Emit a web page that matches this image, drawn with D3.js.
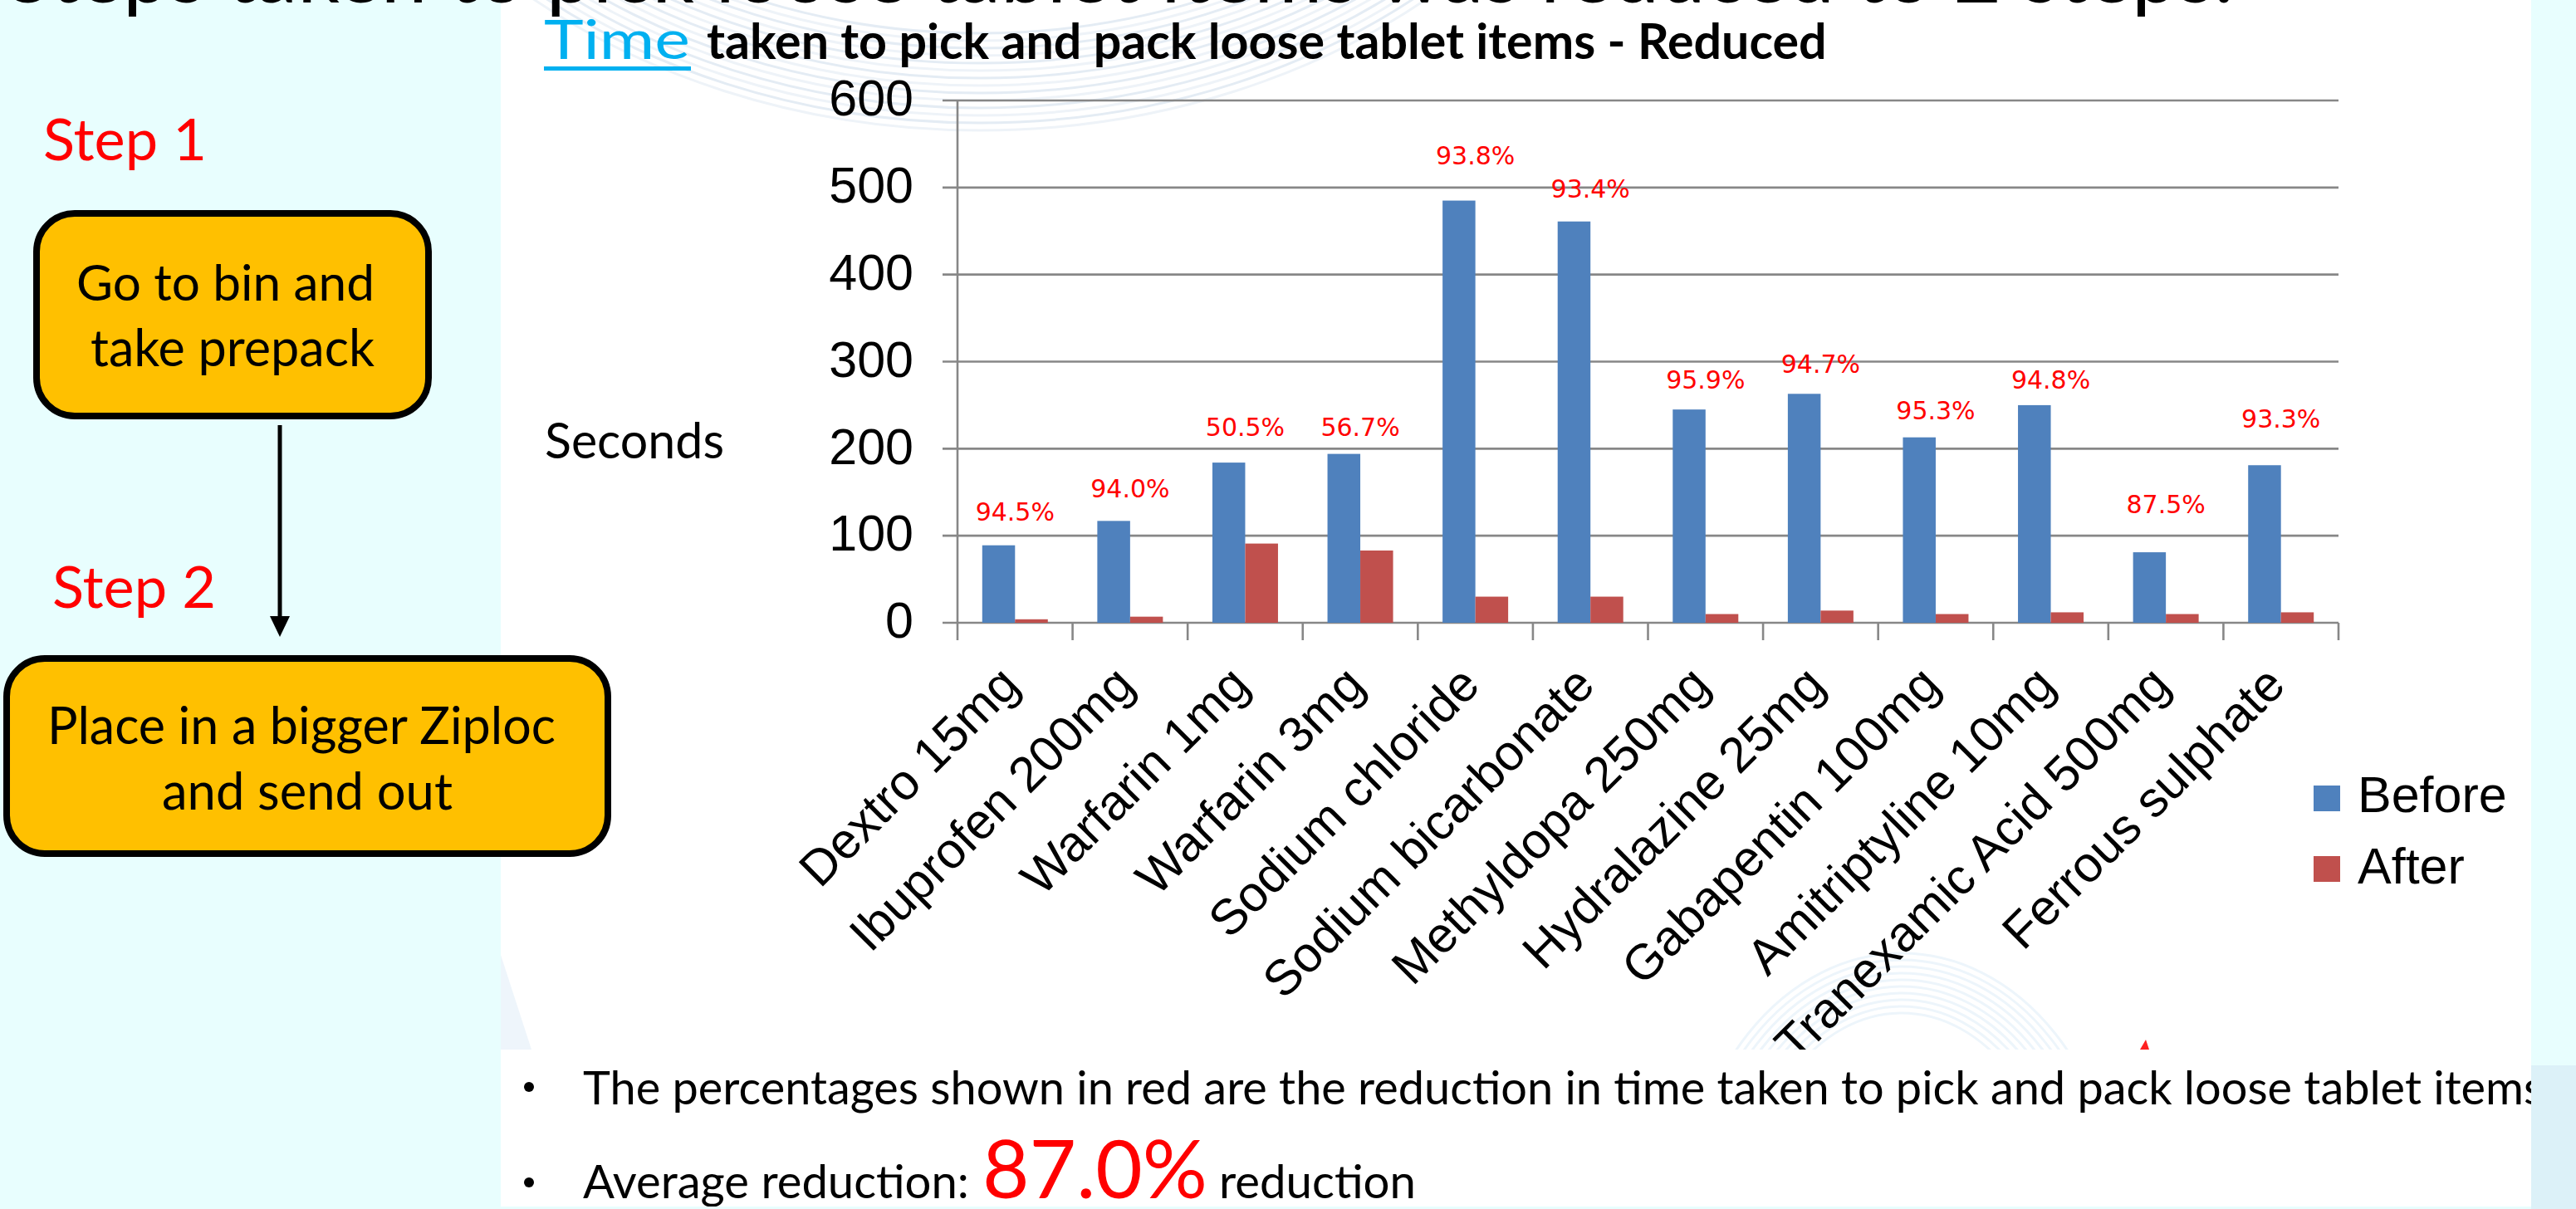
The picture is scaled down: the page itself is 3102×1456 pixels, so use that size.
<!DOCTYPE html>
<html><head><meta charset="utf-8">
<script src="https://cdn.jsdelivr.net/npm/d3@7"></script>
<style>html,body{margin:0;padding:0;background:#E8FEFE;overflow:hidden}</style>
</head><body>
<svg id="c" width="3102" height="1456"></svg>
<script>
// ---------- data ----------
const categories = ["Dextro 15mg","Ibuprofen 200mg","Warfarin 1mg","Warfarin 3mg","Sodium chloride","Sodium bicarbonate","Methyldopa 250mg","Hydralazine 25mg","Gabapentin 100mg","Amitriptyline 10mg","Tranexamic Acid 500mg","Ferrous sulphate"];
const seriesNames = ["Before","After"];
const before = [89,117,184,194,485,461,245,263,213,250,81,181];
const after  = [4,7,91,83,30,30,10,14,10,12,10,12];
const reductionLabels = ["94.5%","94.0%","50.5%","56.7%","93.8%","93.4%","95.9%","94.7%","95.3%","94.8%","87.5%","93.3%"];
const labelLevels = [117,144,215,215,527,488,269,287,234,269,126,224]; // seconds at which each red label sits
const yTicks = [0,100,200,300,400,500,600];

// ---------- setup ----------
const svg = d3.select("#c");
const colors = {Before:"#4F81BD", After:"#C0504D"};
const grid = "#878787";
const CAL = "Lato, 'Open Sans', sans-serif";
const ARI = "'Liberation Sans', Arial, sans-serif";

function fit(sel, w){
  const L = sel.node().getComputedTextLength();
  const fs = parseFloat(sel.attr("font-size"));
  sel.attr("font-size", fs*w/L);
  return sel;
}

// backgrounds
svg.append("rect").attr("width",3102).attr("height",1456).attr("fill","#E8FEFE");
svg.append("rect").attr("x",3048).attr("y",1283).attr("width",54).attr("height",173).attr("fill","#DCF1F8");
const defs = svg.append("defs");
defs.append("clipPath").attr("id","chartClip").append("rect").attr("x",603).attr("y",0).attr("width",2445).attr("height",1264);
defs.append("clipPath").attr("id","bottomClip").append("rect").attr("x",603).attr("y",1264).attr("width",2445).attr("height",189);
svg.append("rect").attr("x",603).attr("y",0).attr("width",2445).attr("height",1264).attr("fill","#ffffff");

// faint swirl decoration
const sw = svg.append("g").attr("clip-path","url(#chartClip)").attr("fill","none");
d3.range(0,14).forEach(i=>{
  sw.append("ellipse").attr("cx",1180).attr("cy",-520).attr("rx",720+i*9).attr("ry",560+i*9)
    .attr("stroke", i%2? "#eef3f8":"#e4ecf4").attr("stroke-width",3);
});
d3.range(0,10).forEach(i=>{
  sw.append("ellipse").attr("cx",2290).attr("cy",1480).attr("rx",190+i*8).attr("ry",260+i*8)
    .attr("stroke","#edf5fb").attr("stroke-width",3);
});
svg.append("path").attr("d","M603,1150 L640,1264 L603,1264 Z").attr("fill","#eef5fb");

// top heading (cut off)
const head = svg.append("text").attr("x",8).attr("y",3).attr("font-family",CAL).attr("font-size",90).attr("fill","#000")
  .text("Steps taken to pick loose tablet items was reduced to 2 steps.");
fit(head, 2682);

// ---------- left panel ----------
svg.append("text").attr("x",52).attr("y",193).attr("font-family",CAL).attr("font-size",72).attr("fill","#FF0000").text("Step 1").call(s=>fit(s,197));
svg.append("text").attr("x",63).attr("y",732).attr("font-family",CAL).attr("font-size",72).attr("fill","#FF0000").text("Step 2").call(s=>fit(s,197));

svg.append("rect").attr("x",44).attr("y",257).attr("width",472).attr("height",244).attr("rx",46).attr("ry",46)
  .attr("fill","#FFC000").attr("stroke","#000").attr("stroke-width",8);
svg.append("rect").attr("x",8).attr("y",793).attr("width",724).attr("height",235).attr("rx",46).attr("ry",46)
  .attr("fill","#FFC000").attr("stroke","#000").attr("stroke-width",8);

function boxLine(txt, x0, w, y){
  svg.append("text").attr("x",x0).attr("y",y).attr("font-family",CAL).attr("font-size",62).attr("fill","#000").text(txt).call(s=>fit(s,w));
}
boxLine("Go to bin and", 92, 359, 362);
boxLine("take prepack", 109, 342, 441);
boxLine("Place in a bigger Ziploc", 57, 612, 896);
boxLine("and send out", 195, 350, 975);

// arrow
svg.append("line").attr("x1",337).attr("y1",512).attr("x2",337).attr("y2",748).attr("stroke","#000").attr("stroke-width",5);
svg.append("path").attr("d","M325,742 L349,742 L337,767 Z").attr("fill","#000");

// ---------- chart ----------
const x0 = 1153, x1 = 2816;
const x = d3.scaleBand().domain(categories).range([x0,x1]).paddingInner(0.43).paddingOuter(0.215);
const xs = d3.scaleBand().domain(seriesNames).range([0, x.bandwidth()]);
const y = d3.scaleLinear().domain([0,600]).range([750,121]);
const step = (x1-x0)/categories.length;

// title
svg.append("text").attr("x",655).attr("y",71).attr("font-family",CAL).attr("font-size",66).attr("fill","#00B0F0")
  .attr("textLength",176).attr("lengthAdjust","spacingAndGlyphs").text("Time");
svg.append("rect").attr("x",655).attr("y",80).attr("width",177).attr("height",5).attr("fill","#00B0F0");
svg.append("text").attr("x",851).attr("y",71).attr("font-family",CAL).attr("font-weight","bold").attr("font-size",52).attr("fill","#000")
  .text("taken to pick and pack loose tablet items - Reduced").call(s=>fit(s,1349));

// axis title
svg.append("text").attr("x",656).attr("y",552).attr("font-family",CAL).attr("font-size",50).attr("fill","#000").text("Seconds").call(s=>fit(s,216));

// gridlines
svg.append("g").selectAll("line").data(yTicks).join("line")
  .attr("x1",1135).attr("x2",x1).attr("y1",d=>y(d)).attr("y2",d=>y(d))
  .attr("stroke",grid).attr("stroke-width",2.6);

// y axis labels via d3 axis
const yAxis = svg.append("g").attr("transform",`translate(${x0},0)`)
  .call(d3.axisLeft(y).tickValues(yTicks).tickSize(0).tickPadding(53));
yAxis.select(".domain").remove();
yAxis.selectAll("text").attr("font-family",ARI).attr("font-size",61).attr("fill","#000").attr("dy","0.29em");

// y axis line
svg.append("line").attr("x1",x0).attr("x2",x0).attr("y1",y(600)).attr("y2",771).attr("stroke",grid).attr("stroke-width",2.6);
// category boundary ticks
svg.append("g").selectAll("line").data(d3.range(1,categories.length+1)).join("line")
  .attr("x1",d=>x0+d*step).attr("x2",d=>x0+d*step).attr("y1",750).attr("y2",771)
  .attr("stroke",grid).attr("stroke-width",2.6);

// bars
const rows = categories.map((c,i)=>({c, Before:before[i], After:after[i]}));
const groups = svg.append("g").selectAll("g").data(rows).join("g").attr("transform",d=>`translate(${x(d.c)},0)`);
groups.selectAll("rect").data(d=>seriesNames.map(k=>({k, v:d[k]}))).join("rect")
  .attr("x",d=>xs(d.k)).attr("width",xs.bandwidth())
  .attr("y",d=>y(d.v)).attr("height",d=>y(0)-y(d.v))
  .attr("fill",d=>colors[d.k]);

// reduction labels
svg.append("g").selectAll("text").data(categories).join("text")
  .attr("x",(c,i)=>x0+(i+0.5)*step)
  .attr("y",(c,i)=>y(labelLevels[i]))
  .attr("text-anchor","middle").attr("font-family","'DejaVu Sans', Verdana, sans-serif").attr("font-size",30).attr("fill","#FF0000")
  .text((c,i)=>reductionLabels[i]);

// category labels
svg.append("g").selectAll("text").data(categories).join("text")
  .attr("transform",(c,i)=>`translate(${x0+(i+0.5)*step+8},828) rotate(-45)`)
  .attr("text-anchor","end").attr("font-family",ARI).attr("font-size",60).attr("fill","#000")
  .text(c=>c);

// legend
const lg = svg.append("g");
seriesNames.forEach((k,i)=>{
  lg.append("rect").attr("x",2786).attr("y",946+i*85).attr("width",32).attr("height",31).attr("fill",colors[k]);
  lg.append("text").attr("x",2839).attr("y",978+i*86).attr("font-family",ARI).attr("font-size",61).attr("fill","#000").text(k);
});

// ---------- bottom notes ----------
svg.append("rect").attr("x",603).attr("y",1264).attr("width",2445).attr("height",189).attr("fill","#ffffff");
svg.append("path").attr("d","M2577,1264 L2584,1252 L2588,1264 Z").attr("fill","#FF2020");
const bn = svg.append("g").attr("clip-path","url(#bottomClip)");
bn.append("circle").attr("cx",637).attr("cy",1309).attr("r",6).attr("fill","#000");
bn.append("circle").attr("cx",637).attr("cy",1424).attr("r",6).attr("fill","#000");
bn.append("text").attr("x",702).attr("y",1330).attr("font-family",CAL).attr("font-size",54).attr("fill","#000")
  .text("The percentages shown in red are the reduction in time taken to pick and pack loose tablet items").call(s=>fit(s,2362));
bn.append("text").attr("x",702).attr("y",1443).attr("font-family",CAL).attr("font-size",54).attr("fill","#000").text("Average reduction:").call(s=>fit(s,465));
bn.append("text").attr("x",1183).attr("y",1443).attr("font-family",CAL).attr("font-size",100).attr("fill","#FF0000").text("87.0%").call(s=>fit(s,271));
bn.append("text").attr("x",1468).attr("y",1443).attr("font-family",CAL).attr("font-size",54).attr("fill","#000").text("reduction").call(s=>fit(s,237));
</script></body></html>
